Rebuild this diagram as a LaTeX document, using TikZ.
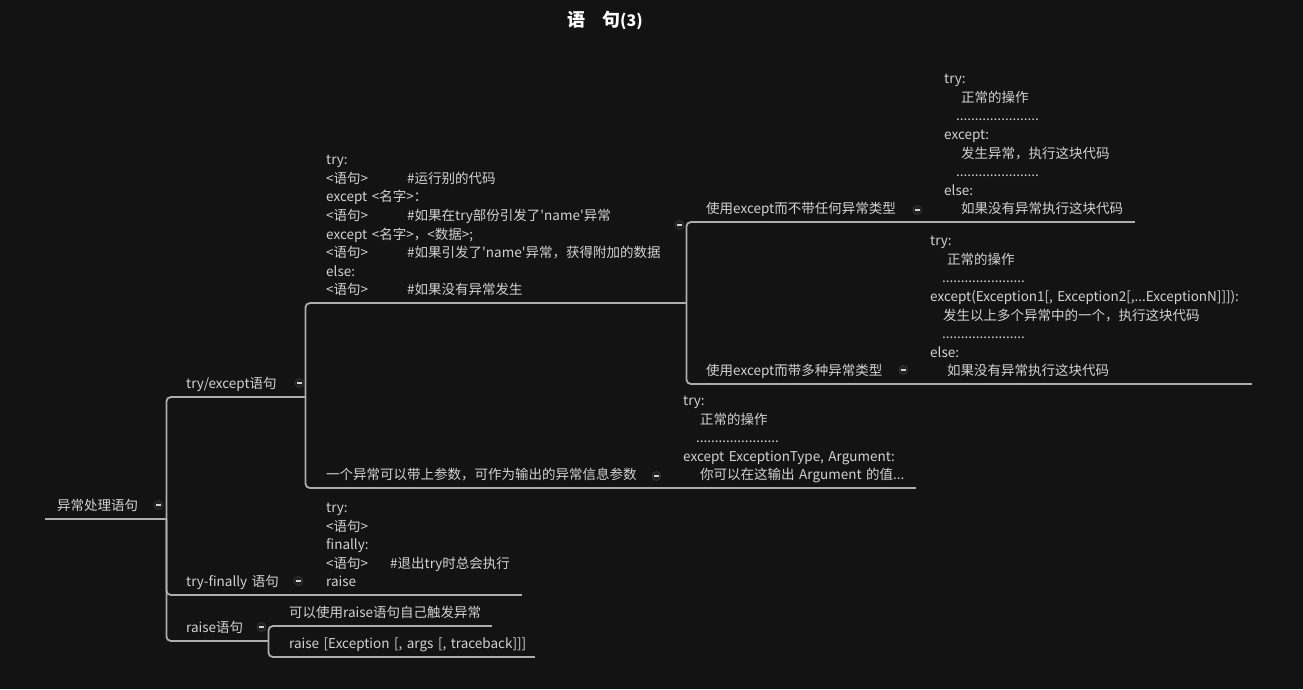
\documentclass[tikz,border=0pt]{standalone}
\usepackage{fontspec}
\setmainfont{Noto Sans CJK SC}
\usepackage{tikz}

\definecolor{bgdark}{HTML}{131313}
\definecolor{linegray}{HTML}{ADADAD}
\definecolor{txtgray}{HTML}{D2D2D2}
\definecolor{folddark}{HTML}{1F1F1F}
\definecolor{foldrim}{HTML}{343434}

% text of a topic, left padding and lines
\newcommand{\topictext}[2]{\begin{tabular}[b]{@{\hspace{#1}}l@{}}#2\end{tabular}}
\newcommand{\dotrow}{......................}

\tikzset{
  topic/.style={anchor=south west, inner xsep=0pt, inner ysep=2.4pt, text width=#1, align=left,
    text=txtgray, font=\fontsize{13.5}{18.6}\selectfont},
  uline/.style={draw=linegray, line width=1.8pt},
  branch/.style={uline, rounded corners=4.5pt},
  fold/.style={circle, draw=foldrim, fill=folddark, line width=0.8pt, minimum size=9pt, inner sep=0pt,
    path picture={\draw[txtgray, line width=1.1pt] ([xshift=-2.2pt]path picture bounding box.center)
      -- ([xshift=2.2pt]path picture bounding box.center);}}
}

\begin{document}
\begin{tikzpicture}[x=1pt, y=-1pt]
    \useasboundingbox[fill=bgdark] (0,0) rectangle (1303,689);

    \node [text=white, font=\fontsize{18}{20}\selectfont\bfseries] (title) at (605,20)
        {语\hspace{17pt}句{\fontsize{16}{18}\selectfont(3)}};

    % main branches
    \node [topic=126pt] (root) at (40,519) {\topictext{17pt}{异常处理语句}};
    \node [topic=139pt] (tryexcept) at (166,397) {\topictext{20pt}{try/except语句}};
    \node [topic=144pt] (tryfinally) at (166,595) {\topictext{20pt}{try-finally 语句}};
    \node [topic=102pt] (raise) at (166,641) {\topictext{20pt}{raise语句}};

    % try/except
    \node [topic=381pt] (excode) at (305,303) {\topictext{21pt}{try:\\
        \makebox[81pt][l]{<语句>}\#运行别的代码\\
        except <名字>：\\
        \makebox[81pt][l]{<语句>}\#如果在try部份引发了\textquotesingle name\textquotesingle 异常\\
        except <名字>，<数据>;\\
        \makebox[81pt][l]{<语句>}\#如果引发了\textquotesingle name\textquotesingle 异常，获得附加的数据\\
        else:\\
        \makebox[81pt][l]{<语句>}\#如果没有异常发生}};
    \node [topic=365pt] (argtopic) at (305,488) {\topictext{21pt}{一个异常可以带上参数，可作为输出的异常信息参数}};
    \node [topic=246pt] (argcode) at (670,488) {\topictext{13pt}{try:\\
        \hspace*{17pt}正常的操作\\
        \hspace*{13pt}\dotrow\\
        except ExceptionType, Argument:\\
        \hspace*{17pt}你可以在这输出 Argument 的值...}};

    \node [topic=244pt] (notype) at (686,222) {\topictext{20pt}{使用except而不带任何异常类型}};
    \node [topic=205pt] (notypecode) at (930,222) {\topictext{14pt}{try:\\
        \hspace*{17pt}正常的操作\\
        \hspace*{12pt}\dotrow\\
        except:\\
        \hspace*{17pt}发生异常，执行这块代码\\
        \hspace*{12pt}\dotrow\\
        else:\\
        \hspace*{17pt}如果没有异常执行这块代码}};
    \node [topic=234pt] (multitype) at (686,384) {\topictext{20pt}{使用except而带多种异常类型}};
    \node [topic=332pt] (multicode) at (920,384) {\topictext{10pt}{try:\\
        \hspace*{17pt}正常的操作\\
        \hspace*{12pt}\dotrow\\
        except(Exception1[, Exception2[,...ExceptionN]]]):\\
        \hspace*{13pt}发生以上多个异常中的一个，执行这块代码\\
        \hspace*{12pt}\dotrow\\
        else:\\
        \hspace*{17pt}如果没有异常执行这块代码}};

    % try-finally
    \node [topic=212pt] (finallycode) at (310,595) {\topictext{16pt}{try:\\
        <语句>\\
        finally:\\
        \makebox[64pt][l]{<语句>}\#退出try时总会执行\\
        raise}};

    % raise
    \node [topic=224pt] (raisedesc) at (268,626) {\topictext{21pt}{可以使用raise语句自己触发异常}};
    \node [topic=267pt] (raisesyntax) at (268,657) {\topictext{21pt}{raise [Exception [, args [, traceback]]]}};

    % underlines
    \foreach \n in {root,tryexcept,tryfinally,raise,excode,argtopic,argcode,notype,notypecode,
                    multitype,multicode,finallycode,raisedesc,raisesyntax}
        \draw [uline] ([xshift=5pt]\n.south west) -- (\n.south east);

    % connectors
    \foreach \c in {tryexcept,tryfinally,raise}
        \draw [branch] (root.south east) |- ([xshift=10pt]\c.south west);
    \foreach \c in {excode,argtopic}
        \draw [branch] (tryexcept.south east) |- ([xshift=10pt]\c.south west);
    \foreach \c in {notype,multitype}
        \draw [branch] (excode.south east) |- ([xshift=10pt]\c.south west);
    \foreach \c in {raisedesc,raisesyntax}
        \draw [branch] (raise.south east) |- ([xshift=10pt]\c.south west);
    \foreach \p/\c in {tryfinally/finallycode,argtopic/argcode,notype/notypecode,multitype/multicode}
        \draw [uline] (\p.south east) -- ([xshift=10pt]\c.south west);

    % collapse buttons
    \node [fold] (f-root) at ([xshift=-8pt,yshift=14pt]root.south east) {};
    \node [fold] (f-tryexcept) at ([xshift=-6pt,yshift=14pt]tryexcept.south east) {};
    \node [fold] (f-tryfinally) at ([xshift=-12pt,yshift=14pt]tryfinally.south east) {};
    \node [fold] (f-raise) at ([xshift=-7pt,yshift=14pt]raise.south east) {};
    \node [fold] (f-excode) at ([xshift=-7pt,yshift=78pt]excode.south east) {};
    \node [fold] (f-argtopic) at ([xshift=-14pt,yshift=12pt]argtopic.south east) {};
    \node [fold] (f-notype) at ([xshift=-13pt,yshift=12pt]notype.south east) {};
    \node [fold] (f-multitype) at ([xshift=-17pt,yshift=14pt]multitype.south east) {};
\end{tikzpicture}
\end{document}
